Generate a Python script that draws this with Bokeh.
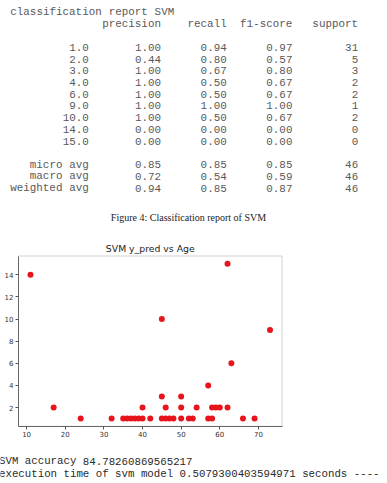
from bokeh.plotting import figure
from bokeh.models import Range1d, FixedTicker, LinearAxis, BoxAnnotation, ColumnDataSource
from bokeh.core.properties import value
from bokeh.embed import file_html
from bokeh.resources import INLINE
import re

# ---------------- data ----------------
report_title = "classification report SVM"
header_names = ["precision", "recall", "f1-score", "support"]
class_labels = ["1.0", "2.0", "3.0", "4.0", "6.0", "9.0", "10.0", "14.0", "15.0"]
precision = [1.00, 0.44, 1.00, 1.00, 1.00, 1.00, 1.00, 0.00, 0.00]
recall = [0.94, 0.80, 0.67, 0.50, 0.50, 1.00, 0.50, 0.00, 0.00]
f1_score = [0.97, 0.57, 0.80, 0.67, 0.67, 1.00, 0.67, 0.00, 0.00]
support = [31, 5, 3, 2, 2, 1, 2, 0, 0]
avg_labels = ["micro avg", "macro avg", "weighted avg"]
avg_precision = [0.85, 0.72, 0.94]
avg_recall = [0.85, 0.54, 0.85]
avg_f1 = [0.85, 0.59, 0.87]
avg_support = [46, 46, 46]

caption = "Figure 4: Classification report of SVM"
scatter_title = "SVM y_pred vs Age"

age = [24, 32, 35, 36, 37, 38, 39, 40, 42, 45, 46, 47, 48, 50, 52, 53, 57, 58, 66, 69,
       17, 40, 46, 50, 54, 58, 59, 60, 62,
       45, 50,
       57,
       63,
       73,
       45,
       11,
       62]
y_pred = [1] * 20 + [2] * 9 + [3] * 2 + [4] + [6] + [9] + [10] + [14] + [15]

x_ticks = [10, 20, 30, 40, 50, 60, 70]
y_ticks = [2, 4, 6, 8, 10, 12, 14]

bottom_lines = [
    "SVM accuracy 84.78260869565217",
    "execution time of svm model 0.5079300403594971 seconds ----",
]

# ---------------- report text (sklearn layout) ----------------
width_lbl = max(len(s) for s in class_labels + avg_labels)
lines = [report_title]
lines.append(" " * width_lbl + " " + "".join(" {:>9}".format(h) for h in header_names))
lines.append("")
for lab, pr, rc, f1, sp in zip(class_labels, precision, recall, f1_score, support):
    lines.append("{:>{w}s} ".format(lab, w=width_lbl) +
                 "".join(" {:>9.2f}".format(v) for v in (pr, rc, f1)) + " {:>9}".format(sp))
lines.append("")
for lab, pr, rc, f1, sp in zip(avg_labels, avg_precision, avg_recall, avg_f1, avg_support):
    lines.append("{:>{w}s} ".format(lab, w=width_lbl) +
                 "".join(" {:>9.2f}".format(v) for v in (pr, rc, f1)) + " {:>9}".format(sp))

# ---------------- page / chart box geometry (page pixels) ----------------
W, H = 387, 483
BL, BR, BT, BB = 18.0, 281.5, 255.5, 425.8

xpad = (max(age) - min(age)) * 0.05
ypad = (max(y_pred) - min(y_pred)) * 0.05
xlo, xhi = min(age) - xpad, max(age) + xpad
ylo, yhi = min(y_pred) - ypad, max(y_pred) + ypad
sx = (xhi - xlo) / (BR - BL)      # data units per pixel
sy = (yhi - ylo) / (BB - BT)

p = figure(width=W, height=H, x_range=Range1d(0, W), y_range=Range1d(H, 0),
           x_axis_location=None, y_axis_location=None, min_border=0,
           output_backend="svg", toolbar_location=None, title_location=None)
p.grid.visible = False
p.outline_line_color = None
p.background_fill_color = "white"
p.border_fill_color = "white"

p.extra_x_ranges = {"age": Range1d(xlo - BL * sx, xhi + (W - BR) * sx)}
p.extra_y_ranges = {"pred": Range1d(ylo - (H - BB) * sy, yhi + BT * sy)}

# chart frame
p.add_layout(BoxAnnotation(left=xlo, right=xhi, bottom=ylo, top=yhi,
                           x_range_name="age", y_range_name="pred",
                           fill_alpha=0, line_color="#666666", line_width=1, level="underlay"))

p.scatter(x=age, y=y_pred, size=6, fill_color="#e8141c", line_color=None,
          x_range_name="age", y_range_name="pred")

xaxis = LinearAxis(x_range_name="age", y_range_name="pred", fixed_location=ylo,
                   bounds=(xlo, xhi), ticker=FixedTicker(ticks=x_ticks))
yaxis = LinearAxis(x_range_name="age", y_range_name="pred", fixed_location=xlo,
                   bounds=(ylo, yhi), ticker=FixedTicker(ticks=y_ticks))
for ax in (xaxis, yaxis):
    ax.major_label_text_font = "DejaVu Sans"
    ax.major_label_text_font_size = "7px"
    ax.major_label_text_color = "#333333"
    ax.major_tick_out = 3
    ax.major_tick_in = 0
    ax.minor_tick_out = 0
    ax.minor_tick_in = 0
    ax.axis_line_color = "#666666"
    ax.major_tick_line_color = "#555555"
    ax.major_label_standoff = 2
p.add_layout(xaxis, "below")
p.add_layout(yaxis, "left")


def mono_words(line_list, x0, y0, dy, cw):
    xs, ys, ts = [], [], []
    for i, line in enumerate(line_list):
        for m in re.finditer(r"\S+", line):
            word = m.group(0)
            xs.append(x0 + (m.start() + len(word) / 2.0) * cw)
            ys.append(y0 + i * dy)
            ts.append(word)
    return ColumnDataSource(dict(x=xs, y=ys, t=ts))


p.text(x="x", y="y", text="t", source=mono_words(lines, 9.5, 11.7, 11.72, 6.57),
       text_font=value("Liberation Mono"), text_font_size="10.9px", text_color="#595959",
       text_align="center", text_baseline="middle")
p.text(x="x", y="y", text="t", source=mono_words(bottom_lines, -1.5, 460.7, 12.6, 6.45),
       text_font=value("Liberation Mono"), text_font_size="10.75px", text_color="#2a2a2a",
       text_align="center", text_baseline="middle")
p.text(x=[188], y=[217], text=[caption], text_font=value("Liberation Serif"),
       text_font_size="10px", text_color="#222222", text_align="center", text_baseline="middle")
p.text(x=[(BL + BR) / 2], y=[248.3], text=[scatter_title], text_font=value("DejaVu Sans"),
       text_font_size="9.3px", text_color="#222222", text_align="center", text_baseline="middle")

open("out.html", "w").write(file_html(p, INLINE))
